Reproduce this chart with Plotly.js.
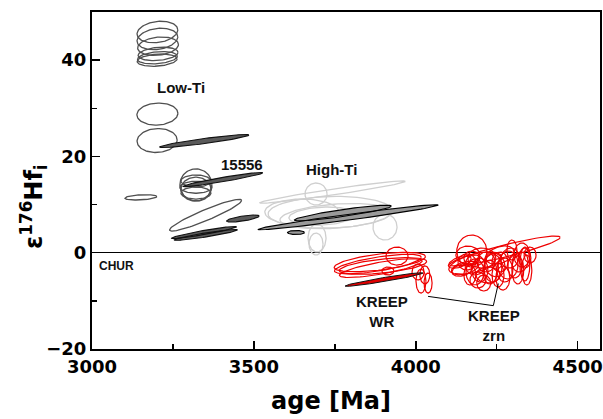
<!DOCTYPE html>
<html><head><meta charset="utf-8">
<script src="https://cdn.plot.ly/plotly-3.0.1.min.js"></script>
<style>html,body{margin:0;padding:0;background:#fff}</style>
</head><body><div id="chart" style="width:603px;height:419px"></div>
<script>
// Each ellipse: centre age (Ma), centre eps176Hf_i, half span in age (Ma), half span in eps, correlation
// Low-Ti basalts and 15556 (open ellipses)
const lowTiAge  = [3202, 3202, 3204, 3204, 3202, 3201, 3202, 3201, 3151, 3351, 3321, 3321, 3321, 3321, 3321];
const lowTiEps  = [45.85, 44.4, 42.9, 41.3, 40.5, 40.0, 28.8, 23.3, 11.5, 7.8, 14.1, 14.9, 13.6, 12.4, 13.2];
const lowTiSAge = [62.9, 62.9, 63.0, 61.5, 61.5, 61.6, 63.3, 61.8, 49.3, 111.3, 49.4, 46.3, 49.4, 46.3, 46.3];
const lowTiSEps = [2.24, 2.24, 1.91, 1.39, 1.29, 1.28, 2.29, 2.49, 0.55, 3.30, 3.32, 1.25, 1.25, 1.25, 2.49];
const lowTiRho  = [0.19, 0.19, 0.19, 0.23, 0.25, 0.21, 0.07, 0.06, 0.31, 0.93, 0, 0, 0, 0, 0];
// Low-Ti filled (dark grey)
const lowTiFAge  = [3347, 3404.5, 3466, 3346, 3352];
const lowTiFEps  = [23.2, 15.2, 7.1, 4.2, 3.7];
const lowTiFSAge = [137.7, 123.3, 50.4, 100.4, 97.6];
const lowTiFSEps = [1.35, 1.47, 0.73, 1.26, 1.12];
const lowTiFRho  = [0.92, 0.95, 0.70, 0.94, 0.925];
// High-Ti (light open ellipses)
const highTiAge  = [3743, 3692, 3753, 3710, 3648, 3905, 3695, 3692, 3735];
const highTiEps  = [12.6, 12.2, 7.6, 7.6, 8.45, 5.34, 3.05, 1.8, 8.4];
const highTiSAge = [224.5, 34.0, 172.5, 101.8, 114.3, 37.1, 27.8, 21.6, 191];
const highTiSEps = [2.31, 2.28, 2.62, 1.90, 2.70, 2.70, 2.91, 2.28, 3.3];
const highTiRho  = [0.963, 0, 0.30, 0.175, 0, 0, 0, 0, 0.1];
// High-Ti filled (grey)
const highTiFAge  = [3791, 3775, 3630];
const highTiFEps  = [7.37, 8.25, 4.2];
const highTiFSAge = [278.5, 149.8, 26.2];
const highTiFSEps = [2.60, 1.62, 0.415];
const highTiFRho  = [0.972, 0.892, 0];
// KREEP whole rock (red)
const wrAge  = [3889, 3883, 3899, 3892, 3942, 3914, 4016, 4038, 4007, 4028];
const wrEps  = [-1.93, -2.35, -2.76, -3.2, -0.69, -3.8, -5.9, -6.3, -4.0, -4.6];
const wrSAge = [141, 134.2, 135.1, 127.8, 34.0, 18.5, 15.4, 12.4, 18.5, 15.4];
const wrSEps = [2.02, 2.03, 1.73, 1.95, 1.87, 0.83, 2.49, 2.08, 1.66, 1.87];
const wrRho  = [0.56, 0.69, 0.54, 0.76, 0, 0, 0, 0, 0, 0];
const wrFAge = [3902], wrFEps = [-5.57], wrFSAge = [120.3], wrFSEps = [1.41], wrFRho = [0.955];
// KREEP zircons (red)
const zrnAge  = [4275, 4173, 4158, 4183, 4198, 4167, 4217, 4229, 4244, 4260, 4275, 4291, 4306, 4322, 4337, 4343, 4192, 4152, 4136, 4254, 4210, 4297, 4353, 4173, 4183, 4337,
                 4143, 4161, 4204, 4238, 4269, 4285, 4315, 4223, 4183, 4260, 4328];
const zrnEps  = [0.35, 0.35, -1.93, -2.55, -3.59, -4.63, -1.93, -4.01, -2.55, -1.93, -3.59, -1.10, -2.76, -1.93, -1.10, -3.59, -5.67, -3.18, -1.93, -4.63, -6.29, 0.56, -0.48, -1.10, -2.14, -2.35,
                 -3.6, -0.48, -1.10, -3.18, -5.26, -2.55, -3.59, -4.63, -4.0, -0.48, -0.48];
const zrnSAge = [170.9, 46.3, 27.8, 30.9, 24.7, 18.5, 27.8, 21.6, 31.7, 24.7, 24.7, 27.8, 21.6, 24.7, 18.5, 15.4, 24.7, 42.0, 35.2, 18.5, 21.6, 15.4, 18.5, 24.7, 80.9, 15.4,
                 30.9, 37.0, 43.2, 27.8, 21.6, 30.9, 18.5, 37.1, 27.8, 43.2, 24.7];
const zrnSEps = [3.11, 3.32, 1.66, 2.08, 2.49, 2.08, 2.08, 2.49, 2.45, 2.08, 2.49, 2.08, 2.49, 2.08, 2.08, 3.12, 1.66, 1.42, 1.30, 2.49, 1.66, 2.08, 1.66, 1.45, 2.32, 3.53,
                 1.3, 1.87, 2.08, 2.91, 2.49, 2.91, 2.91, 1.66, 2.70, 1.9, 2.49];
const zrnRho  = [0.91, 0, 0, 0, 0, 0, 0, 0, -0.12, 0, 0, 0.1, 0, 0.1, 0, 0, 0, 0.43, 0.54, 0, 0, 0, 0, 0, 0.55, 0,
                 0.3, 0, 0, 0, 0, 0.05, 0, 0, 0, 0.35, 0];
// Label leader line (KREEP WR -> KREEP zrn)
const leaderAge = [4038, 4239.5, 4255];
const leaderEps = [-9.07, -11.0, -6.4];
// Text labels
const labelText = ['Low-Ti', '15556', 'High-Ti', 'KREEP<br>WR', 'KREEP<br>zrn', 'CHUR'];
const labelAge  = [3275, 3462, 3741, 3895.5, 4241, 3076];
const labelEps  = [34.3, 18.3, 17.3, -12.3, -15.1, -2.76];

function ellipses(cx, cy, sx, sy, rho) {
  const xs = [], ys = [];
  for (let k = 0; k < cx.length; k++) {
    const r = rho[k], q = Math.sqrt(1 - r * r);
    for (let i = 0; i <= 90; i++) {
      const t = 2 * Math.PI * i / 90;
      xs.push(cx[k] + sx[k] * Math.cos(t));
      ys.push(cy[k] + sy[k] * (r * Math.cos(t) + q * Math.sin(t)));
    }
    xs.push(null); ys.push(null);
  }
  return {x: xs, y: ys};
}
function outlineTrace(e, color, w) {
  return {type: 'scatter', mode: 'lines', x: e.x, y: e.y, line: {color: color, width: w}, hoverinfo: 'skip', showlegend: false};
}
function filledTrace(e, fill, lineColor, w) {
  return {type: 'scatter', mode: 'lines', x: e.x, y: e.y, fill: 'toself', fillcolor: fill,
          line: {color: lineColor, width: w}, hoverinfo: 'skip', showlegend: false};
}

const traces = [
  outlineTrace(ellipses(highTiAge, highTiEps, highTiSAge, highTiSEps, highTiRho), '#cfcfcf', 1.3),
  filledTrace(ellipses(highTiFAge, highTiFEps, highTiFSAge, highTiFSEps, highTiFRho), '#9a9a9a', '#000', 1.1),
  outlineTrace(ellipses(lowTiAge, lowTiEps, lowTiSAge, lowTiSEps, lowTiRho), '#505050', 1.3),
  filledTrace(ellipses(lowTiFAge, lowTiFEps, lowTiFSAge, lowTiFSEps, lowTiFRho), '#5a5a5a', '#111', 1.1),
  outlineTrace(ellipses(wrAge, wrEps, wrSAge, wrSEps, wrRho), '#ee0000', 1.2),
  filledTrace(ellipses(wrFAge, wrFEps, wrFSAge, wrFSEps, wrFRho), '#e00000', '#111', 1.0),
  outlineTrace(ellipses(zrnAge, zrnEps, zrnSAge, zrnSEps, zrnRho), '#ee0000', 1.2),
  {type: 'scatter', mode: 'lines', x: leaderAge, y: leaderEps, line: {color: '#000', width: 1}, hoverinfo: 'skip', showlegend: false}
];

const labFont = {family: 'Liberation Sans, Arial, sans-serif', size: 15, color: '#111'};
const annotations = labelText.map((t, i) => ({
  x: labelAge[i], y: labelEps[i], xref: 'x', yref: 'y', text: '<b>' + t.replace('<br>', '</b><br><b>') + '</b>', showarrow: false,
  xanchor: 'center', yanchor: 'middle',
  font: Object.assign({}, labFont, t === 'CHUR' ? {size: 12} : {})
}));
const titleFont = {family: 'DejaVu Sans, sans-serif', size: 24, color: '#000'};
annotations.push({xref: 'paper', yref: 'paper', x: 0.470, y: -0.154, text: '<b>age [Ma]</b>', showarrow: false,
  xanchor: 'center', yanchor: 'middle', font: titleFont});
// y-axis title placed in axis (data) coordinates so its vertical position is explicit
annotations.push({xref: 'paper', yref: 'y', x: -0.114, y: 9.5, text: '<b>ε<sup>176</sup>Hf<sub>i</sub></b>', showarrow: false,
  textangle: -90, xanchor: 'center', yanchor: 'middle', font: titleFont});

const tickFont = {family: 'DejaVu Sans, sans-serif', size: 18, color: '#000', weight: 'bold'};
const layout = {
  width: 603, height: 419,
  margin: {l: 92, r: 3, t: 12, b: 70},
  paper_bgcolor: '#fff', plot_bgcolor: '#fff',
  showlegend: false,
  xaxis: {range: [3000, 4569], tick0: 3000, dtick: 500, ticks: 'inside', ticklen: 8, tickwidth: 1.5, tickcolor: '#000',
    minor: {dtick: 250, ticks: 'inside', ticklen: 5, tickwidth: 1.5, tickcolor: '#000'},
    showline: true, linecolor: '#000', linewidth: 2, mirror: true, showgrid: false, zeroline: false,
    tickfont: tickFont},
  yaxis: {range: [-20, 50], tick0: -20, dtick: 20, ticks: 'inside', ticklen: 8, tickwidth: 1.5, tickcolor: '#000',
    minor: {dtick: 10, ticks: 'inside', ticklen: 5, tickwidth: 1.5, tickcolor: '#000'},
    showline: true, linecolor: '#000', linewidth: 2, mirror: true, showgrid: false,
    zeroline: true, zerolinecolor: '#000', zerolinewidth: 1.5,
    tickfont: tickFont},
  annotations: annotations
};
Plotly.newPlot('chart', traces, layout, {staticPlot: true, displayModeBar: false});
</script></body></html>
